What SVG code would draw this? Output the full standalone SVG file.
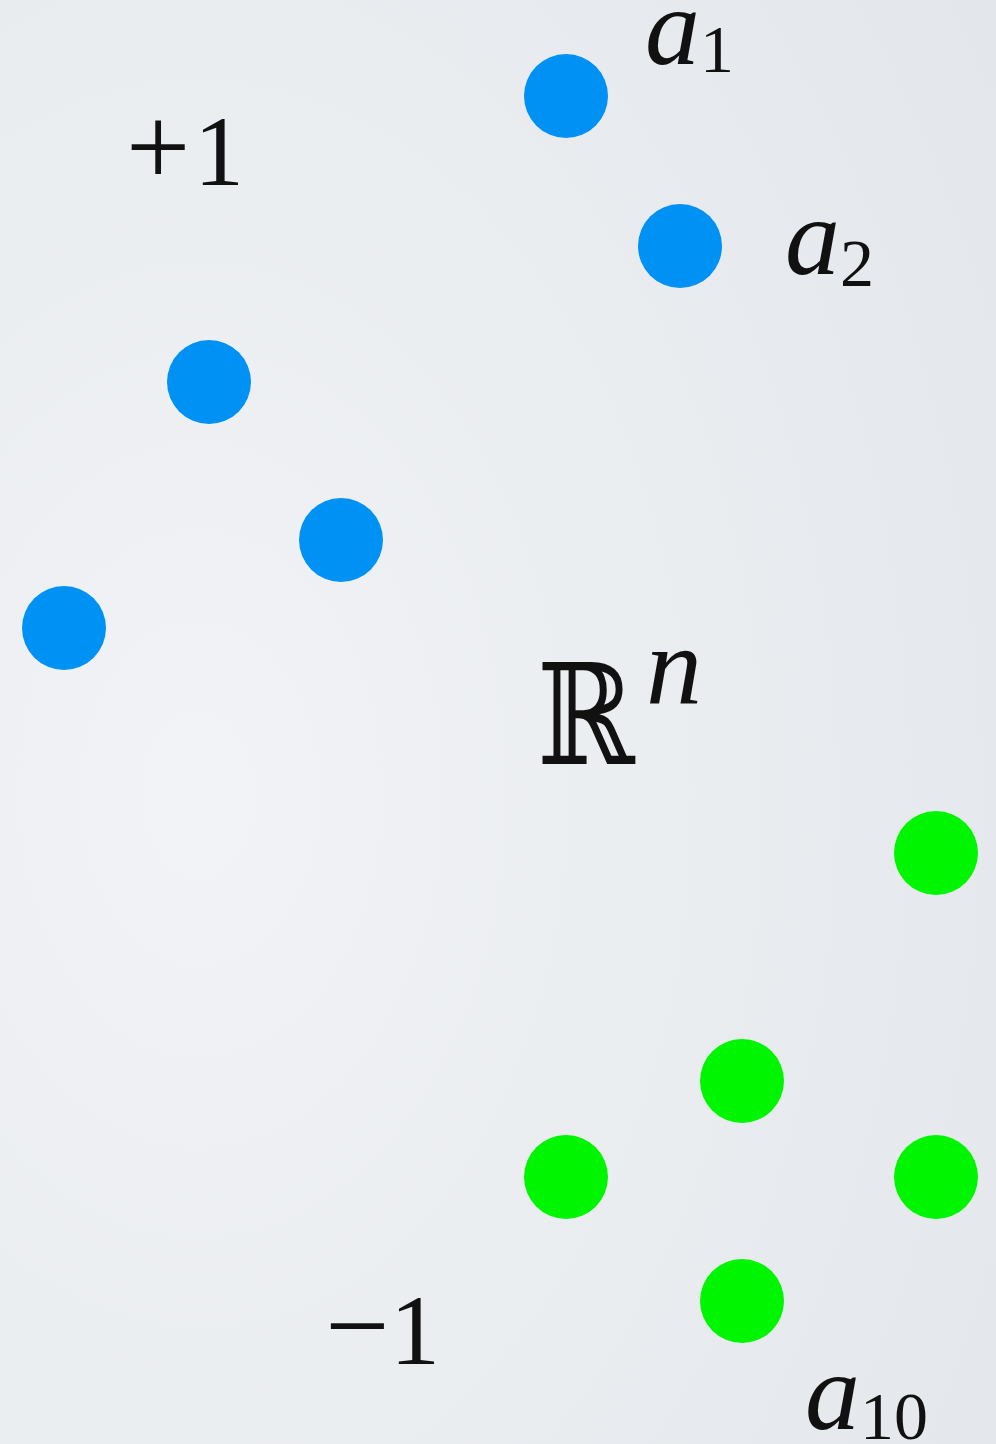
<svg xmlns="http://www.w3.org/2000/svg" width="996" height="1444" viewBox="0 0 996 1444">
<defs>
<radialGradient id="bg" cx="0.2" cy="0.55" r="1.0">
<stop offset="0" stop-color="#f1f3f6"/>
<stop offset="1" stop-color="#e3e6ea"/>
</radialGradient>
<style>
.b{fill:#0091f5}
.g{fill:#00f500}
.t{font-family:"Liberation Serif","Times New Roman",serif;fill:#111}
.i{font-style:italic}
</style>
</defs>
<rect width="996" height="1444" fill="url(#bg)"/>
<g id="blue">
<circle class="b" cx="566" cy="96" r="42"/>
<circle class="b" cx="680" cy="246" r="42"/>
<circle class="b" cx="209" cy="382" r="42"/>
<circle class="b" cx="341" cy="540" r="42"/>
<circle class="b" cx="64" cy="628" r="42"/>
</g>
<g id="green">
<circle class="g" cx="936" cy="853" r="42"/>
<circle class="g" cx="742" cy="1081" r="42"/>
<circle class="g" cx="566" cy="1177" r="42"/>
<circle class="g" cx="936" cy="1177" r="42"/>
<circle class="g" cx="742" cy="1301" r="42"/>
</g>
<g id="labels">
<text class="t" x="126" y="185"><tspan font-size="114">+</tspan><tspan x="194" font-size="100">1</tspan></text>
<text class="t" x="325" y="1364"><tspan font-size="114">−</tspan><tspan x="390" font-size="100">1</tspan></text>
<text class="t" x="645" y="64"><tspan class="i" font-size="110">a</tspan><tspan font-size="68" dy="8">1</tspan></text>
<text class="t" x="785" y="274"><tspan class="i" font-size="110">a</tspan><tspan font-size="68" dy="12">2</tspan></text>
<text class="t" x="805" y="1429"><tspan class="i" font-size="110">a</tspan><tspan font-size="68" dy="10">10</tspan></text>
<text x="0" y="0" font-size="140" font-family="DejaVu Serif, serif" fill="#111" transform="translate(537,764) scale(0.84,1)">ℝ</text>
<text class="t i" x="646" y="704" font-size="112">n</text>
</g>
</svg>
